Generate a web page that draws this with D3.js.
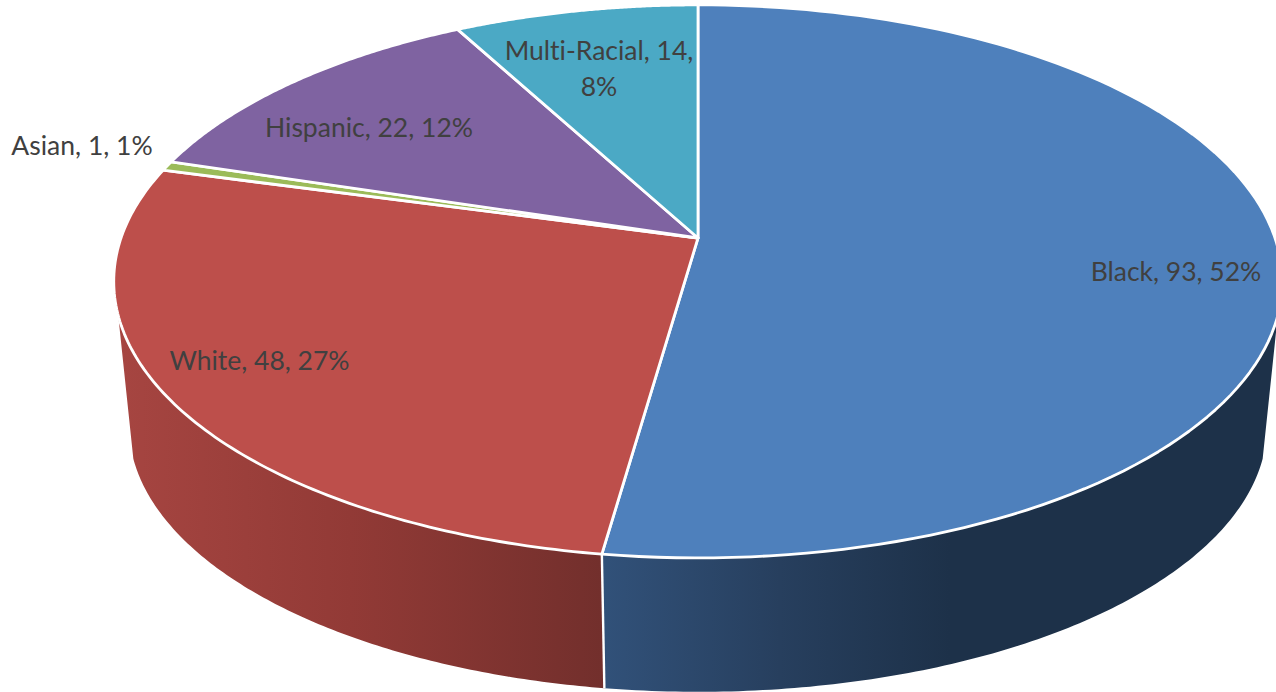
<!DOCTYPE html>
<html>
<head>
<meta charset="utf-8">
<script src="https://cdn.jsdelivr.net/npm/d3@7/dist/d3.min.js"></script>
<style>
html,body{margin:0;padding:0;background:#fff;overflow:hidden}
svg{display:block}
text{font-family:Lato,"Open Sans",sans-serif;font-size:26.5px;fill:#404040;font-variant-ligatures:none}
</style>
</head>
<body>
<svg id="chart" width="1276" height="692"></svg>
<script>
const categories = ["Black", "White", "Asian", "Hispanic", "Multi-Racial"];
const values = [93, 48, 1, 22, 14];
const colors = ["#4e80bc", "#bd4f4b", "#9bbb59", "#7f63a1", "#4ba9c5"];

const total = d3.sum(values);
const pct = d3.format(".0%");
const svg = d3.select("#chart");

// perspective projection of the pie's rim
const K = 0.157;
const topDisc = {cx: 698, cy: 238, a: 577, b: 269.7};
const lowDisc = {cx: 698, cy: 384, a: 562, b: 259.5};
const project = (disc, t) => {
  const u = Math.sin(t), v = -Math.cos(t), w = 1 - K * v;
  return [disc.cx + disc.a * u / w, disc.cy + disc.b * v / w];
};
const rim = (disc, a0, a1) => d3.range(0, 1.0001, 1 / 120).map(f => project(disc, a0 + (a1 - a0) * f));
const line = d3.line();
const rad = d => d * Math.PI / 180;

const arcs = d3.pie().value(d => d).sort(null)(values);

const defs = svg.append("defs");
function gradient(id, stops) {
  const g = defs.append("linearGradient").attr("id", id)
    .attr("gradientUnits", "userSpaceOnUse")
    .attr("x1", 0).attr("x2", 1276).attr("y1", 0).attr("y2", 0);
  stops.forEach(([x, c]) => g.append("stop").attr("offset", x / 1276).attr("stop-color", c));
}
gradient("wallBlack", [[605, "#315179"], [780, "#273f5e"], [950, "#1d3149"], [1276, "#1d3149"]]);
gradient("wallWhite", [[120, "#a64541"], [350, "#923a36"], [605, "#722f2c"]]);

// side walls: visible range of the two front slices
const rightLimit = rad(106), leftLimit = rad(254);
const walls = [
  {a0: rightLimit, a1: arcs[0].endAngle, fill: "url(#wallBlack)"},
  {a0: arcs[1].startAngle, a1: leftLimit, fill: "url(#wallWhite)"}
];
svg.append("g").selectAll("path").data(walls).join("path")
  .attr("d", d => line(rim(topDisc, d.a0, d.a1).concat(rim(lowDisc, d.a0, d.a1).reverse())) + "Z")
  .attr("fill", d => d.fill);

// white seam between the walls
svg.append("path")
  .attr("d", line([project(topDisc, arcs[0].endAngle), project(lowDisc, arcs[0].endAngle)]))
  .attr("stroke", "#fff").attr("stroke-width", 2.4).attr("fill", "none");

// top faces
svg.append("g").selectAll("path").data(arcs).join("path")
  .attr("d", d => line([[topDisc.cx, topDisc.cy]].concat(rim(topDisc, d.startAngle, d.endAngle))) + "Z")
  .attr("fill", (d, i) => colors[i])
  .attr("stroke", "#fff").attr("stroke-width", 2.8).attr("stroke-linejoin", "round");

// labels
const labelAnchor = [[1176, 281], [259.5, 370], [82, 155], [369, 137], [599, 60]];
const labelLines = [0, 1, 2, 3].map(i => [`${categories[i]}, ${values[i]}, ${pct(values[i] / total)}`]);
labelLines.push([`${categories[4]}, ${values[4]},`, pct(values[4] / total)]);
const labels = svg.append("g").selectAll("text").data(labelLines).join("text")
  .attr("text-anchor", "middle")
  .attr("x", (d, i) => labelAnchor[i][0])
  .attr("y", (d, i) => labelAnchor[i][1]);
labels.selectAll("tspan").data(d => d).join("tspan")
  .attr("x", function () { return this.parentNode.getAttribute("x"); })
  .attr("dy", (d, i) => i ? 36 : 0)
  .text(d => d);
</script>
</body>
</html>
